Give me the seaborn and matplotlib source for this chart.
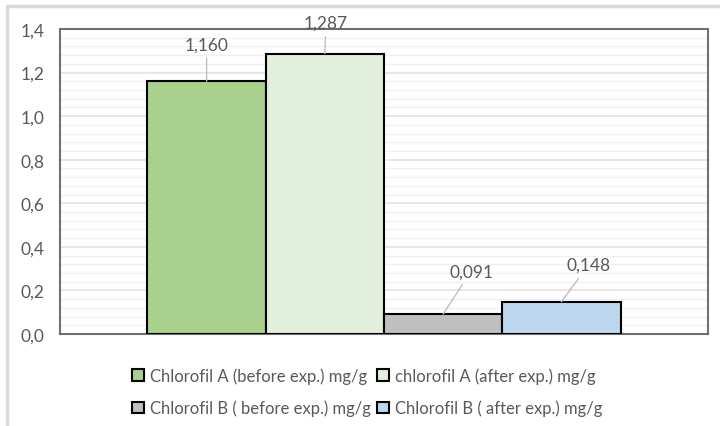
import matplotlib
matplotlib.use("Agg")
import matplotlib.pyplot as plt
from matplotlib.lines import Line2D
from matplotlib.ticker import FuncFormatter, MultipleLocator
import pandas as pd
import seaborn as sns

# Chlorophyll content, mg/g
series = [
    "Chlorofil A (before exp.) mg/g",
    "chlorofil A (after exp.) mg/g",
    "Chlorofil B ( before exp.) mg/g",
    "Chlorofil B ( after exp.) mg/g",
]
values = [1.160, 1.287, 0.091, 0.148]
colors = ["#a9d18e", "#e2efda", "#bfbfbf", "#bdd7ee"]
value_labels = ["1,160", "1,287", "0,091", "0,148"]
# label offsets from bar tops (pixels)
label_offsets = [(0, 37), (1, 31), (28, 43), (27, 37)]

df = pd.DataFrame({"group": [""] * len(series), "series": series, "value": values})

sns.set_theme(style="white")
plt.rcParams["font.family"] = ["Lato", "DejaVu Sans"]
text_color = "#595959"
fs = 12

fig = plt.figure(figsize=(7.2, 4.27), dpi=100)
ax = fig.add_axes([60 / 720, 1 - 335 / 427, 648 / 720, 305 / 427])

sns.barplot(data=df, x="group", y="value", hue="series", palette=colors,
            saturation=1, width=0.73, edgecolor="black", linewidth=1.5,
            legend=False, ax=ax, zorder=3)

ax.set_xlim(-0.5, 0.5)
ax.set_ylim(0, 1.4)
ax.yaxis.set_major_locator(MultipleLocator(0.2))
ax.yaxis.set_minor_locator(MultipleLocator(0.04))
ax.yaxis.set_major_formatter(FuncFormatter(lambda v, p: f"{v:.1f}".replace(".", ",")))
ax.grid(axis="y", which="major", color="#e3e3e3", linewidth=1.2, zorder=0)
ax.grid(axis="y", which="minor", color="#f0f0f0", linewidth=1.0, zorder=0)
ax.set_axisbelow(True)
ax.set_xlabel("")
ax.set_ylabel("")
ax.set_xticks([])
ax.tick_params(axis="y", which="both", length=0, pad=11, labelsize=fs + 0.5,
               labelcolor=text_color)
for sp in ax.spines.values():
    sp.set_visible(True)
    sp.set_color("#6f6f6f")
    sp.set_linewidth(1.5)

bars = [p for p in ax.patches if p.get_height() > 0]
bars.sort(key=lambda p: p.get_x())
for bar, lab, off in zip(bars, value_labels, label_offsets):
    cx = bar.get_x() + bar.get_width() / 2
    ax.annotate(lab, xy=(cx, bar.get_height()), xytext=off,
                textcoords="offset pixels", ha="center", va="center",
                fontsize=fs + 0.5, color=text_color, annotation_clip=False,
                arrowprops=dict(arrowstyle="-", color="#bfbfbf", lw=1.0,
                                shrinkA=2, shrinkB=0))

# legend laid out row by row
handles = [plt.Rectangle((0, 0), 1, 1, facecolor=c, edgecolor="black", linewidth=1.5)
           for c in colors]
order = [0, 2, 1, 3]
leg = fig.legend([handles[i] for i in order], [series[i] for i in order], ncol=2,
                 loc="center", bbox_to_anchor=(367 / 720, 1 - 393 / 427),
                 frameon=False, fontsize=fs, handlelength=0.7, handleheight=0.7,
                 handletextpad=0.35, columnspacing=0.4, labelspacing=0.95)
for t in leg.get_texts():
    t.set_color(text_color)

# outer chart frame (left and top edges)
fig.add_artist(Line2D([7 / 720, 7 / 720], [0, 1 - 7 / 427], transform=fig.transFigure,
                      color="#d9d9d9", linewidth=2.5))
fig.add_artist(Line2D([7 / 720, 1], [1 - 7 / 427, 1 - 7 / 427], transform=fig.transFigure,
                      color="#d9d9d9", linewidth=2.5))

fig.savefig("out.png", dpi=100)
